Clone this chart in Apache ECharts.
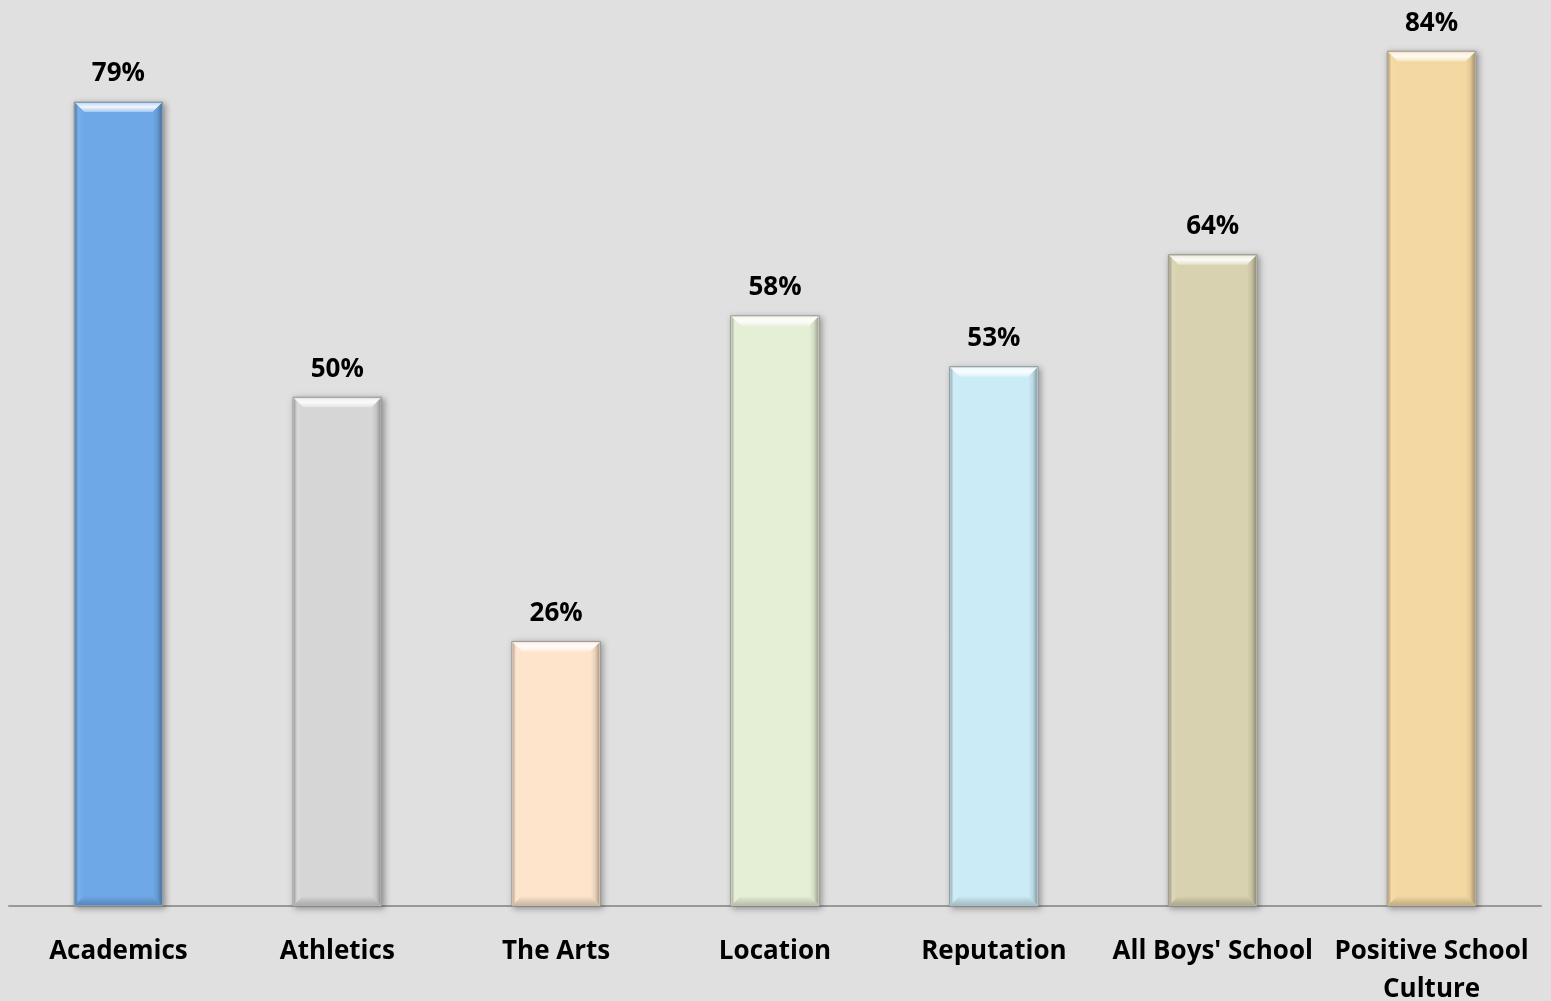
<!DOCTYPE html>
<html>
<head>
<meta charset="utf-8">
<script src="https://cdn.jsdelivr.net/npm/echarts@6/dist/echarts.min.js"></script>
<style>
  html, body { margin: 0; padding: 0; background: #e0e0e0; overflow: hidden; }
  #chart { width: 1551px; height: 1001px; }
</style>
</head>
<body>
<div id="chart"></div>
<script>
// Share of respondents citing each reason (%)
const categories = ['Academics', 'Athletics', 'The Arts', 'Location', 'Reputation', "All Boys' School", 'Positive School\nCulture'];
const values = [79, 50, 26, 58, 53, 64, 84];
const barColors = ['#6ea8e6', '#d6d6d6', '#fde4cb', '#e5efd5', '#cbebf6', '#d8d2b0', '#f3d8a1'];

const FONT = '"Open Sans", Lato, sans-serif';

// Mix a hex colour toward white (t>0) or black (t<0)
function shade(hex, t) {
  const n = parseInt(hex.slice(1), 16);
  let r = (n >> 16) & 255, g = (n >> 8) & 255, b = n & 255;
  const target = t > 0 ? 255 : 0;
  const k = Math.abs(t);
  r = Math.round(r + (target - r) * k);
  g = Math.round(g + (target - g) * k);
  b = Math.round(b + (target - b) * k);
  return 'rgb(' + r + ',' + g + ',' + b + ')';
}

// Bevelled bar: body, four bevel facets and a value label
function renderBevelBar(params, api) {
  const idx = api.value(0);
  const val = api.value(1);
  const top = api.coord([idx, val]);
  const base = api.coord([idx, 0]);
  const bw = api.size([1, 0])[0] * 0.405;
  const x0 = top[0] - bw / 2, x1 = top[0] + bw / 2;
  const y0 = top[1], y1 = base[1];
  const b = 10;
  const c = barColors[idx];
  const G = echarts.graphic;
  return {
    type: 'group',
    children: [
      {
        type: 'rect',
        shape: { x: x0, y: y0, width: bw, height: y1 - y0 },
        style: {
          fill: c, stroke: '#9a9a9a', lineWidth: 1,
          shadowBlur: 6, shadowColor: 'rgba(0,0,0,0.35)', shadowOffsetX: 2, shadowOffsetY: 2
        }
      },
      { // top facet
        type: 'polygon',
        shape: { points: [[x0 + 1, y0 + 1], [x1 - 1, y0 + 1], [x1 - b, y0 + b], [x0 + b, y0 + b]] },
        style: {
          fill: new G.LinearGradient(0, 0, 0, 1, [
            { offset: 0, color: shade(c, 0.6) },
            { offset: 0.45, color: shade(c, 0.9) },
            { offset: 1, color: shade(c, 0.35) }
          ])
        }
      },
      { // left facet
        type: 'polygon',
        shape: { points: [[x0 + 1, y0 + 1], [x0 + b, y0 + b], [x0 + b, y1 - b], [x0 + 1, y1 - 1]] },
        style: {
          fill: new G.LinearGradient(0, 0, 1, 0, [
            { offset: 0, color: shade(c, -0.25) },
            { offset: 0.35, color: shade(c, 0.08) },
            { offset: 1, color: c }
          ])
        }
      },
      { // right facet
        type: 'polygon',
        shape: { points: [[x1 - 1, y0 + 1], [x1 - b, y0 + b], [x1 - b, y1 - b], [x1 - 1, y1 - 1]] },
        style: {
          fill: new G.LinearGradient(0, 0, 1, 0, [
            { offset: 0, color: c },
            { offset: 0.5, color: shade(c, -0.08) },
            { offset: 1, color: shade(c, -0.32) }
          ])
        }
      },
      { // bottom facet
        type: 'polygon',
        shape: { points: [[x0 + 1, y1 - 1], [x1 - 1, y1 - 1], [x1 - b, y1 - b], [x0 + b, y1 - b]] },
        style: {
          fill: new G.LinearGradient(0, 0, 0, 1, [
            { offset: 0, color: c },
            { offset: 1, color: shade(c, -0.2) }
          ])
        }
      },
      {
        type: 'text',
        x: top[0],
        y: y0 - 15,
        style: {
          text: val + '%',
          fill: '#000',
          font: 'bold 26px ' + FONT,
          align: 'center',
          verticalAlign: 'bottom'
        }
      }
    ]
  };
}

const chart = echarts.init(document.getElementById('chart'), null, { renderer: 'canvas' });
chart.setOption({
  backgroundColor: '#e0e0e0',
  animation: false,
  grid: { left: 9, right: 10, top: 41, bottom: 95, containLabel: false, outerBoundsMode: 'none' },
  xAxis: {
    type: 'category',
    data: categories,
    axisLine: { show: true, lineStyle: { color: '#999999', width: 2 } },
    axisTick: { show: false },
    axisLabel: {
      color: '#000',
      fontFamily: FONT,
      fontWeight: 'bold',
      fontSize: 26,
      lineHeight: 38,
      margin: 27,
      interval: 0
    }
  },
  yAxis: {
    type: 'value',
    min: 0,
    max: 85,
    show: false,
    splitLine: { show: false }
  },
  series: [{
    type: 'custom',
    renderItem: renderBevelBar,
    encode: { x: 0, y: 1 },
    data: values.map((v, i) => [i, v]),
    clip: false
  }]
});
</script>
</body>
</html>
